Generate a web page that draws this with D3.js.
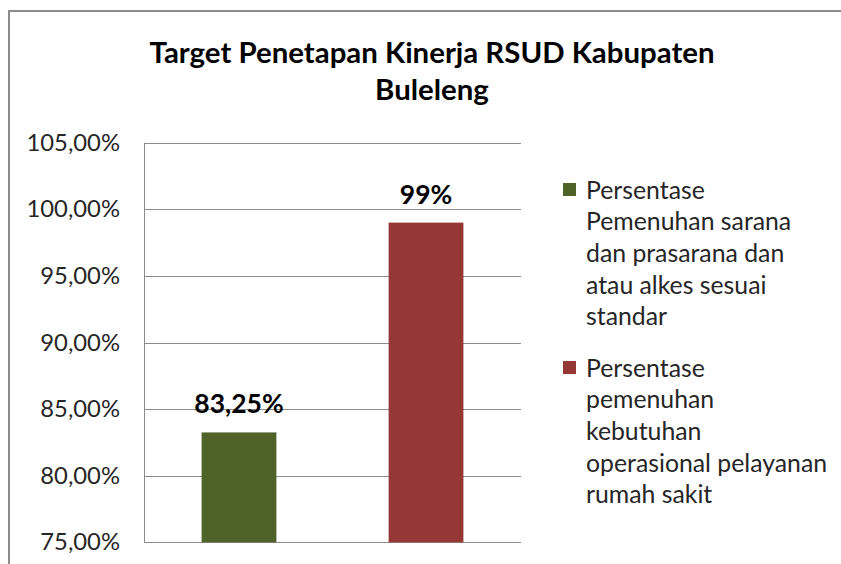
<!DOCTYPE html>
<html><head><meta charset="utf-8">
<script src="https://cdn.jsdelivr.net/npm/d3@7/dist/d3.min.js"></script>
<style>body{margin:0;background:#fff;} svg{display:block;font-family:Lato,"Open Sans",sans-serif;}</style>
</head><body>
<svg id="c" width="841" height="564"></svg>
<script>
const titleLines = ["Target Penetapan Kinerja RSUD Kabupaten", "Buleleng"];
const seriesNames = ["s1", "s2"];
const seriesValues = [83.25, 99];
const valueLabels = ["83,25%", "99%"];
const seriesColors = ["#4f6228", "#953735"];
const legendLines = [
  ["Persentase", "Pemenuhan sarana", "dan prasarana dan", "atau alkes sesuai", "standar"],
  ["Persentase", "pemenuhan", "kebutuhan", "operasional pelayanan", "rumah sakit"]
];
const tickValues = [75, 80, 85, 90, 95, 100, 105];
const fmt = v => v.toFixed(2).replace(".", ",") + "%";

const svg = d3.select("#c");
// outer frame
svg.append("path").attr("d", "M9,564 V11 H841").attr("fill","none").attr("stroke","#8c8c8c").attr("stroke-width",2);

const plot = {l:144, r:521, t:142.7, b:542.3};
const y = d3.scaleLinear().domain([75,105]).range([plot.b, plot.t]);
const x = d3.scaleBand().domain(seriesNames).range([plot.l, plot.r]).paddingInner(0.6).paddingOuter(0.308);

// gridlines
svg.append("g").selectAll("line").data(tickValues).join("line")
  .attr("x1", plot.l).attr("x2", plot.r)
  .attr("y1", d => Math.round(y(d))+0.5).attr("y2", d => Math.round(y(d))+0.5)
  .attr("stroke", "#8c8c8c").attr("stroke-width", 1);
svg.append("line").attr("x1", plot.l+0.5).attr("x2", plot.l+0.5).attr("y1", plot.t).attr("y2", plot.b+0.5)
  .attr("stroke","#8c8c8c");

// y axis labels
const yAxis = d3.axisLeft(y).tickValues(tickValues).tickFormat(fmt).tickSize(0).tickPadding(24);
const ga = svg.append("g").attr("transform", `translate(${plot.l},0)`).call(yAxis);
ga.select(".domain").remove();
ga.selectAll("text").attr("font-size", 23.8).attr("fill", "#262626").attr("font-family","Lato");

// bars
svg.append("g").selectAll("rect").data(seriesValues).join("rect")
  .attr("x", (d,i) => x(seriesNames[i]))
  .attr("width", x.bandwidth())
  .attr("y", d => y(d))
  .attr("height", d => plot.b - y(d))
  .attr("fill", (d,i) => seriesColors[i]);

// value labels
svg.append("g").selectAll("text").data(seriesValues).join("text")
  .attr("x", (d,i) => x(seriesNames[i]) + x.bandwidth()/2)
  .attr("y", d => y(d) - 19)
  .attr("text-anchor", "middle").attr("font-size", 26.5).attr("font-weight", "bold").attr("fill", "#000")
  .text((d,i) => valueLabels[i]);

// title
svg.append("g").selectAll("text").data(titleLines).join("text")
  .attr("x", 432).attr("y", (d,i) => 63 + i*37)
  .attr("text-anchor", "middle").attr("font-size", 29.4).attr("font-weight", "bold").attr("fill", "#000")
  .text(d => d);

// legend
const lg = svg.append("g");
const entryTop = [190, 368];
legendLines.forEach((lines, i) => {
  lg.append("rect").attr("x", 563).attr("y", entryTop[i]-7).attr("width", 13).attr("height", 13).attr("fill", seriesColors[i]);
  lines.forEach((t, j) => {
    lg.append("text").attr("x", 586).attr("y", entryTop[i] + j*31.7 + 8.5)
      .attr("font-size", 24.8).attr("fill", "#262626").text(t);
  });
});
</script>
</body></html>
